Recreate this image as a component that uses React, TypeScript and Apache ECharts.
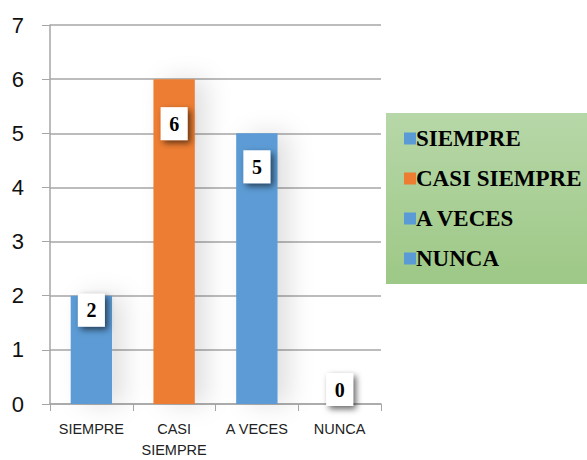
import React, { useEffect, useRef } from "react";
import * as echarts from "echarts";

const categories = ["SIEMPRE", "CASI\nSIEMPRE", "A VECES", "NUNCA"];
const legendNames = ["SIEMPRE", "CASI SIEMPRE", "A VECES", "NUNCA"];
const values = [2, 6, 5, 0];
const colors = ["#5B9BD5", "#ED7D31", "#5B9BD5", "#5B9BD5"];
const labelOffsets = [[0, 36], [0, 66], [0, 55], [0, 7]];

const SERIF = "'Liberation Serif', 'DejaVu Serif', serif";
const SANS = "'Liberation Sans', Arial, sans-serif";

export default function App() {
  const ref = useRef<HTMLDivElement>(null);
  useEffect(() => {
    const chart = echarts.init(ref.current!, null, { renderer: "svg" });
    const series = values.map((v, i) => ({
      name: legendNames[i],
      type: "bar",
      stack: "all",
      barWidth: "50%",
      itemStyle: {
        color: colors[i],
        shadowColor: "rgba(0,0,0,0.12)",
        shadowBlur: 25,
        shadowOffsetX: 12,
      },
      data: values.map((_, j) => (j === i ? v : "-")),
      label: {
        show: true,
        position: "top",
        offset: labelOffsets[i],
        fontFamily: SERIF,
        fontWeight: "bold",
        fontSize: 20,
        color: "#000",
        backgroundColor: "#fff",
        width: 27,
        height: 33,
        lineHeight: 33,
        align: "center",
        padding: [0, 0],
        shadowColor: "rgba(0,0,0,0.6)",
        shadowBlur: 6,
        shadowOffsetX: 3,
        shadowOffsetY: 3,
      },
    }));
    chart.setOption({
      animation: false,
      grid: { left: 50, top: 25, width: 331, height: 382 },
      graphic: [
        {
          type: "rect",
          left: 386,
          top: 113,
          shape: { width: 210, height: 171 },
          style: {
            fill: new echarts.graphic.LinearGradient(0, 0, 0, 1, [
              { offset: 0, color: "#B7D7A8" },
              { offset: 1, color: "#9DC886" },
            ]),
          },
          z: 0,
        },
      ],
      legend: {
        orient: "vertical",
        left: 399,
        top: 122,
        itemWidth: 12,
        itemHeight: 12,
        itemGap: 17,
        icon: "rect",
        z: 10,
        textStyle: {
          fontFamily: SERIF,
          fontWeight: "bold",
          fontSize: 23,
          color: "#000",
          padding: [0, 0, 0, -5],
        },
        data: legendNames,
      },
      xAxis: {
        type: "category",
        data: categories,
        axisLine: { lineStyle: { color: "#A6A6A6", width: 1.5 } },
        axisTick: { show: true, length: 7, lineStyle: { color: "#A6A6A6" } },
        axisLabel: {
          interval: 0,
          fontFamily: SANS,
          fontSize: 14.5,
          color: "#222",
          lineHeight: 21,
          margin: 14,
        },
      },
      yAxis: {
        type: "value",
        min: 0,
        max: 7,
        interval: 1,
        axisLine: { show: true, lineStyle: { color: "#A6A6A6", width: 1.5 } },
        axisTick: { show: true, length: 8, lineStyle: { color: "#A6A6A6" } },
        splitLine: { lineStyle: { color: "#A6A6A6", width: 1.5 } },
        axisLabel: {
          fontFamily: SANS,
          fontSize: 22,
          color: "#111",
          margin: 26,
        },
      },
      series,
    });
    return () => chart.dispose();
  }, []);
  return <div ref={ref} style={{ width: 587, height: 460, position: "absolute", left: 0, top: 0 }} />;
}
